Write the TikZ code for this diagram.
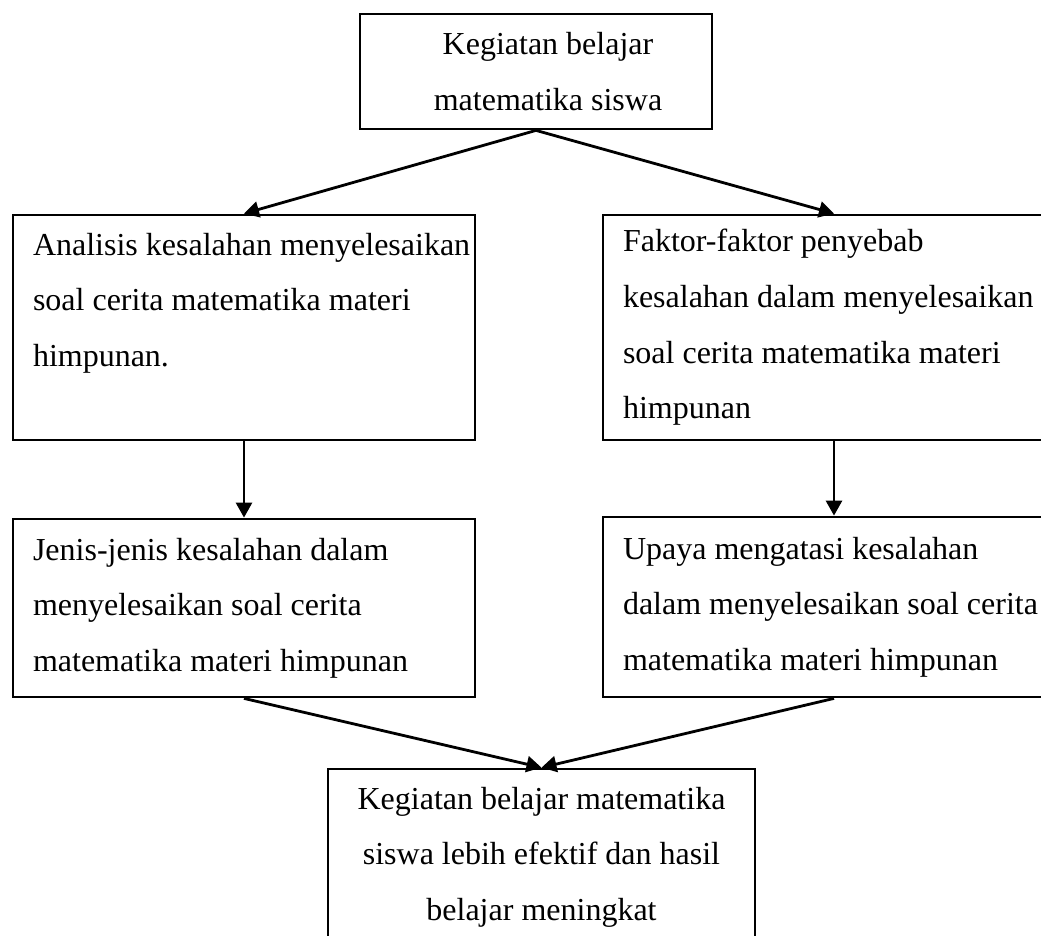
\documentclass[tikz,border=0pt]{standalone}
\usepackage{fontspec}
\setmainfont{Liberation Serif}
\usepackage{tikz}
\usetikzlibrary{positioning}
\usetikzlibrary{arrows.meta}
\usetikzlibrary{calc}
\tikzset{
  box/.style={draw, line width=1.4pt, inner ysep=0pt, font=\fontsize{16pt}{27.8pt}\selectfont},
  sidebox/.style={box, text width=211pt, inner xsep=10pt, align=flush left, minimum height=#1},
  midbox/.style={box, align=flush center, minimum width=#1},
  arr/.style={line width=1.4pt, -{Triangle[length=7.5pt,width=8pt]}}
}
\begin{document}
\begin{tikzpicture}[x=0.5pt,y=-0.5pt]
\useasboundingbox (0,0) rectangle (1041,936);
\clip (0,0) rectangle (1041,936);

\node (kegiatan) [midbox=176pt, minimum height=57.5pt] at (536,71.5)
  {\hspace*{12pt}Kegiatan belajar\\ \hspace*{12pt}matematika siswa};
\node (analisis) [sidebox=112.5pt] at (244,327.5)
  {\mbox{Analisis kesalahan menyelesaikan}\\ soal cerita matematika materi\\ himpunan.\\ \mbox{}};
\node (faktor) [sidebox=112.5pt] at (834,327.5)
  {Faktor-faktor penyebab\\ kesalahan dalam menyelesaikan\\ soal cerita matematika materi\\ himpunan};
\node (jenis) [sidebox=89pt] at (244,608)
  {Jenis-jenis kesalahan dalam\\ menyelesaikan soal cerita\\ matematika materi himpunan};
\node (upaya) [sidebox=90pt] at (834,607)
  {Upaya mengatasi kesalahan\\ \mbox{dalam menyelesaikan soal cerita}\\ matematika materi himpunan};
\node (hasil) [midbox=213.5pt, minimum height=88pt] at (541.5,857)
  {Kegiatan belajar matematika\\ siswa lebih efektif dan hasil\\ belajar meningkat};

\draw [arr] (kegiatan.south) -- (analisis.north);
\draw [arr] (kegiatan.south) -- (faktor.north);
\draw [arr] (analisis.south) -- (jenis.north);
\draw [arr] (faktor.south) -- (upaya.north);
\draw [arr] (jenis.south) -- (hasil.north);
\draw [arr] (upaya.south) -- (hasil.north);
\end{tikzpicture}
\end{document}
